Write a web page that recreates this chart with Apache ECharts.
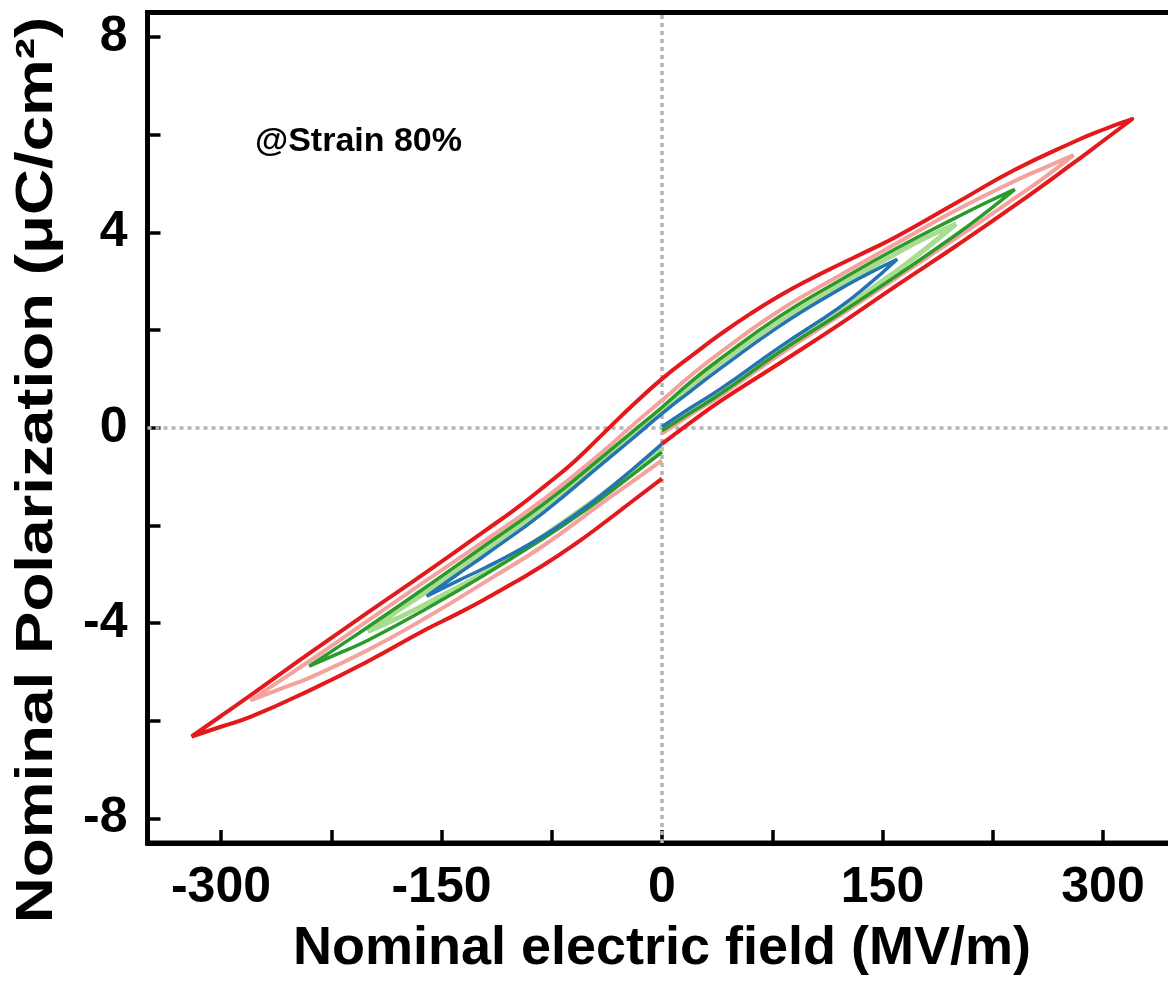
<!DOCTYPE html>
<html>
<head>
<meta charset="utf-8">
<script src="https://cdn.jsdelivr.net/npm/echarts@6/dist/echarts.min.js"></script>
<style>html,body{margin:0;padding:0;background:#fff;}#c{width:1168px;height:990px;}</style>
</head>
<body>
<div id="c"></div>
<script>
// Field (MV/m) / polarization (µC/cm²) loop data
const loop160 = [[0,0.02],[20,0.42],[40,0.8],[80,1.65],[120,2.45],[140,2.92],[160,3.45],
  [140,3.15],[120,2.82],[80,2.08],[40,1.22],[20,0.76],[0,0.29],[-20,-0.22],[-40,-0.72],[-80,-1.72],[-120,-2.6],[-140,-3.02],[-160,-3.45],
  [-140,-3.15],[-120,-2.86],[-100,-2.55],[-80,-2.2],[-60,-1.8],[-40,-1.35],[-20,-0.85],[0,-0.33]];
const loop200 = [[0,-0.02],[20,0.36],[40,0.74],[80,1.6],[120,2.38],[160,3.22],[180,3.68],[200,4.17],
  [180,3.9],[160,3.58],[120,2.9],[80,2.18],[40,1.33],[20,0.86],[0,0.36],[-20,-0.15],[-40,-0.65],[-80,-1.62],[-120,-2.5],[-160,-3.35],[-180,-3.75],[-200,-4.17],
  [-180,-3.9],[-160,-3.6],[-120,-2.95],[-80,-2.2],[-60,-1.78],[-40,-1.35],[-20,-0.88],[0,-0.42]];
const loop240 = [[0,-0.06],[20,0.32],[40,0.7],[80,1.55],[120,2.32],[160,3.12],[200,3.95],[220,4.4],[240,4.88],
  [220,4.6],[200,4.3],[160,3.68],[120,3.0],[80,2.28],[40,1.42],[20,0.95],[0,0.42],[-20,-0.08],[-40,-0.58],[-80,-1.55],[-120,-2.4],[-160,-3.25],[-200,-4.08],[-220,-4.48],[-240,-4.88],
  [-220,-4.62],[-200,-4.35],[-160,-3.7],[-120,-3.0],[-80,-2.25],[-60,-1.85],[-40,-1.42],[-20,-0.96],[0,-0.5]];
const loop280 = [[0,-0.12],[20,0.28],[40,0.66],[80,1.5],[120,2.28],[160,3.08],[200,3.88],[240,4.7],[260,5.12],[280,5.58],
  [260,5.32],[240,5.05],[200,4.45],[160,3.78],[120,3.1],[80,2.4],[40,1.55],[20,1.08],[0,0.56],[-20,0.05],[-40,-0.48],[-80,-1.45],[-120,-2.3],[-160,-3.12],[-200,-3.95],[-240,-4.78],[-260,-5.18],[-280,-5.58],
  [-260,-5.35],[-240,-5.12],[-200,-4.55],[-160,-3.88],[-120,-3.15],[-80,-2.4],[-40,-1.52],[-20,-1.1],[0,-0.67]];
const loop320 = [[0,-0.33],[20,0.12],[40,0.55],[80,1.32],[120,2.1],[160,2.92],[200,3.72],[240,4.55],[280,5.42],[300,5.87],[320,6.32],
  [300,6.1],[280,5.85],[240,5.28],[200,4.6],[160,3.92],[140,3.62],[120,3.33],[100,3.03],[80,2.7],[60,2.33],[40,1.92],[20,1.47],[0,1.0],[-20,0.46],[-40,-0.12],[-60,-0.7],[-80,-1.2],[-100,-1.67],[-120,-2.1],[-160,-2.95],[-200,-3.78],[-240,-4.62],[-280,-5.48],[-300,-5.9],[-320,-6.32],
  [-300,-6.12],[-280,-5.92],[-240,-5.38],[-200,-4.78],[-160,-4.12],[-140,-3.82],[-120,-3.5],[-100,-3.16],[-80,-2.8],[-60,-2.4],[-40,-1.96],[-20,-1.5],[0,-1.04]];

const xTicks = [-300,-225,-150,-75,0,75,150,225,300];
const xLabels = [-300,-150,0,150,300];
const yTicks = [-8,-6,-4,-2,0,2,4,6,8];
const yLabels = [-8,-4,0,4,8];

const FONT = '"Liberation Sans", Arial, Helvetica, sans-serif';
const chart = echarts.init(document.getElementById('c'));

function loopSeries(name, data, color, width, z) {
  return { name: name, type: 'line', data: data, symbol: 'none', smooth: 0.5,
    lineStyle: { color: color, width: width }, z: z, silent: true };
}

const series = [
  loopSeries('320', loop320, '#e3191c', 4, 2),
  loopSeries('280', loop280, '#f4a29d', 4, 3),
  loopSeries('200', loop200, '#a8dc8e', 5, 4),
  loopSeries('240', loop240, '#2a9a2a', 3.5, 5),
  loopSeries('160', loop160, '#2473b5', 3.5, 6)
];
series[0].markLine = {
  silent: true, symbol: 'none', label: { show: false },
  lineStyle: { color: '#b4b4b4', type: [4, 4], width: 3.5 },
  data: [{ xAxis: 0 }, { yAxis: 0 }], z: 1
};

chart.setOption({
  animation: false,
  backgroundColor: '#fff',
  grid: { left: 147.5, top: 12.5, right: -8.5, bottom: 147, containLabel: false, outerBoundsMode: 'none',
    show: true, borderColor: '#000', borderWidth: 5, backgroundColor: 'transparent' },
  xAxis: {
    type: 'value', min: -350, max: 350,
    name: 'Nominal electric field (MV/m)', nameLocation: 'middle', nameGap: 79,
    nameTextStyle: { fontFamily: FONT, fontWeight: 'bold', fontSize: 54, color: '#000' },
    axisLine: { show: true, onZero: false, lineStyle: { color: '#000', width: 5 } },
    axisTick: { show: true, inside: true, length: 13, lineStyle: { color: '#000', width: 3.5 }, customValues: xTicks },
    axisLabel: { show: true, fontFamily: FONT, fontWeight: 'bold', fontSize: 50, color: '#000', margin: 20, customValues: xLabels },
    splitLine: { show: false }
  },
  yAxis: {
    type: 'value', min: -8.5, max: 8.5,
    axisLine: { show: true, onZero: false, lineStyle: { color: '#000', width: 5 } },
    axisTick: { show: true, inside: true, length: 13, lineStyle: { color: '#000', width: 3.5 }, customValues: yTicks },
    axisLabel: { show: true, fontFamily: FONT, fontWeight: 'bold', fontSize: 50, color: '#000', margin: 20, customValues: yLabels },
    splitLine: { show: false }
  },
  graphic: [
    { type: 'text', left: 255, top: 125, silent: true,
      style: { text: '@Strain 80%', fontFamily: FONT, fontWeight: 'bold', fontSize: 34, fill: '#000' } },
    { type: 'text', x: 38, y: 470, rotation: Math.PI / 2, scaleX: 1.18, scaleY: 0.95, silent: true,
      style: { text: 'Nominal Polarization (\u03bcC/cm\u00b2)', fontFamily: FONT, fontWeight: 'bold', fontSize: 54,
        fill: '#000', align: 'center', verticalAlign: 'middle' } }
  ],
  series: series
});
</script>
</body>
</html>
